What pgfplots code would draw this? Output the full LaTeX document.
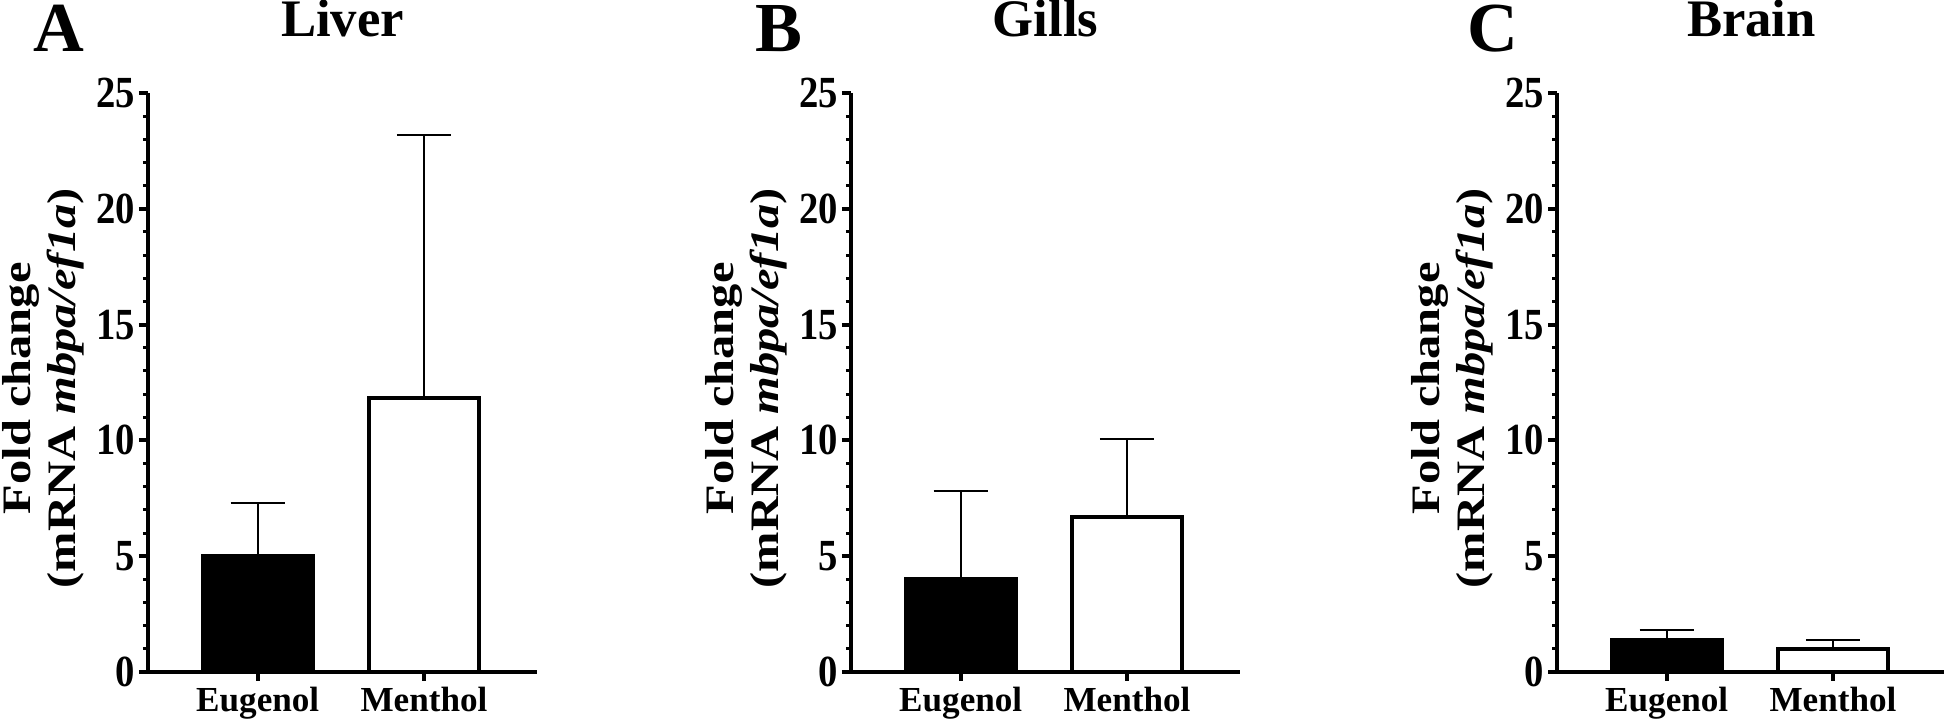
\documentclass[border=0pt]{standalone}
\usepackage{fontspec}
\setmainfont{Liberation Serif}
\usepackage{pgfplots}
\pgfplotsset{compat=1.18}

% one panel = one axis, same frame for all three
\pgfplotsset{
  organ/.style={
    scale only axis, width=38.9mm, height=57.9mm, anchor=south west,
    xmin=-0.66, xmax=1.68, ymin=0, ymax=25,
    axis x line=bottom, axis y line=left,
    axis line style={-, line width=0.4mm},
    xtick={0,1}, xticklabels={Eugenol,Menthol},
    ytick={0,5,...,25}, minor y tick num=4,
    tick align=outside, major tick length=0.9mm, minor tick length=0.5mm,
    tick style={line width=0.4mm, black},
    minor tick style={line width=0.3mm},
    /pgf/number format/assume math mode=true,
    yticklabel={\scalebox{1}[1.15]{\pgfmathprintnumber{\tick}}},
    yticklabel style={font=\fontsize{11}{13}\selectfont\bfseries, inner sep=1pt},
    xticklabel style={font=\fontsize{10}{12}\selectfont\bfseries,
      inner sep=0pt, yshift=-0.5mm},
    clip=false,
  },
  eug/.style={ybar, bar shift=0pt, bar width=0.663, fill=black, draw=black,
    line width=0.4mm,
    error bars/.cd, y dir=plus, y explicit,
    error bar style={line width=0.2mm, black},
    error mark options={rotate=90, mark size=2.7mm, line width=0.2mm, black}},
  men/.style={ybar, bar shift=0pt, bar width=0.663, fill=white, draw=black,
    line width=0.4mm,
    error bars/.cd, y dir=plus, y explicit,
    error bar style={line width=0.2mm, black},
    error mark options={rotate=90, mark size=2.7mm, line width=0.2mm, black}},
}

\newcommand{\panel}[3]{%
  \node[anchor=base, font=\fontsize{15}{18}\selectfont\bfseries]
    at ([yshift=5.6mm]rel axis cs:0.5,1) {#2};
  \node[anchor=base west, inner sep=0pt, font=\fontsize{20}{24}\selectfont\bfseries]
    at ([xshift=#3,yshift=4.2mm]rel axis cs:0,1) {#1};
  \node[rotate=90, inner sep=0pt, font=\fontsize{11.5}{12.8}\selectfont\bfseries]
    at ([xshift=-10.4mm]rel axis cs:0,0.49)
    {\scalebox{1.2}[1]{\begin{tabular}{@{}c@{}}Fold change\\(mRNA \textit{mbpa/ef1a})\end{tabular}}};
}

\begin{document}
\begin{tikzpicture}
\useasboundingbox (0,0) rectangle (194.4mm,71.9mm);

% A: liver
\begin{axis}[organ, at={(14.8mm,4.7mm)}]
  \addplot[eug] coordinates {(0,5.0) +- (0,2.3)};
  \addplot[men] coordinates {(1,11.85) +- (0,11.35)};
  \panel{A}{Liver}{-11.5mm}
\end{axis}

% B: gills
\begin{axis}[organ, at={(85.1mm,4.7mm)}]
  \addplot[eug] coordinates {(0,4.0) +- (0,3.8)};
  \addplot[men] coordinates {(1,6.7) +- (0,3.35)};
  \panel{B}{Gills}{-9.6mm}
\end{axis}

% C: brain
\begin{axis}[organ, at={(155.7mm,4.7mm)}]
  \addplot[eug] coordinates {(0,1.38) +- (0,0.42)};
  \addplot[men] coordinates {(1,1.0) +- (0,0.4)};
  \panel{C}{Brain}{-9.0mm}
\end{axis}
\end{tikzpicture}
\end{document}
